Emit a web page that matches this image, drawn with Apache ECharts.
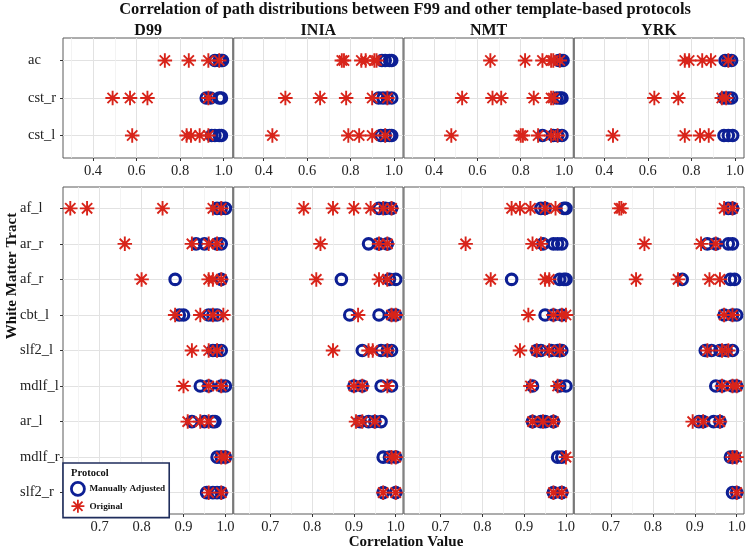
<!DOCTYPE html>
<html>
<head>
<meta charset="utf-8">
<script src="https://cdn.jsdelivr.net/npm/echarts@6/dist/echarts.min.js"></script>
<style>
html,body{margin:0;padding:0;background:#fff;}
#chart{width:749px;height:551px;}
</style>
</head>
<body>
<div id="chart"></div>
<script>
// ---------- data ----------
const templates = ['D99', 'INIA', 'NMT', 'YRK'];
const topTracts = ['ac', 'cst_r', 'cst_l'];
const bottomTracts = ['af_l', 'ar_r', 'af_r', 'cbt_l', 'slf2_l', 'mdlf_l', 'ar_l', 'mdlf_r', 'slf2_r'];
const topTicks = [0.4, 0.6, 0.8, 1.0];
const topMinorTicks = [0.3, 0.5, 0.7, 0.9];
const bottomTicks = [0.7, 0.8, 0.9, 1.0];
const bottomMinorTicks = [0.65, 0.75, 0.85, 0.95];
const protocols = ['Manually Adjusted', 'Original'];

// top block (ac, cst_r, cst_l)
const d99ManualTop   = [[0.96, 0.98, 0.99, 0.995], [0.92, 0.94, 0.98, 0.99], [0.945, 0.96, 0.98, 0.99]];
const d99OriginalTop = [[0.73, 0.84, 0.93, 0.98], [0.49, 0.57, 0.65, 0.93], [0.58, 0.83, 0.85, 0.89, 0.93]];
const iniaManualTop   = [[0.945, 0.96, 0.98, 0.99], [0.93, 0.95, 0.97, 0.99], [0.94, 0.96, 0.98, 0.99]];
const iniaOriginalTop = [[0.76, 0.77, 0.85, 0.87, 0.91, 0.92], [0.50, 0.66, 0.78, 0.90, 0.97], [0.44, 0.79, 0.84, 0.90, 0.96]];
const nmtManualTop   = [[0.975, 0.985, 0.995], [0.965, 0.98, 0.99], [0.90, 0.95, 0.97, 0.99]];
const nmtOriginalTop = [[0.66, 0.82, 0.90, 0.94, 0.95, 0.98], [0.53, 0.67, 0.71, 0.86, 0.94, 0.95], [0.48, 0.80, 0.81, 0.88, 0.94, 0.97]];
const yrkManualTop   = [[0.955, 0.97, 0.985], [0.95, 0.97, 0.985], [0.95, 0.97, 0.99]];
const yrkOriginalTop = [[0.77, 0.79, 0.85, 0.89, 0.97], [0.63, 0.74, 0.94, 0.96], [0.44, 0.77, 0.84, 0.88]];

// bottom block (af_l ... slf2_r)
const d99ManualBottom = [[0.98, 0.99, 1.0], [0.93, 0.95, 0.98, 0.99], [0.88, 0.99], [0.89, 0.90, 0.96, 0.97, 0.98],
  [0.97, 0.98, 0.99], [0.94, 0.96, 0.99, 1.0], [0.92, 0.95, 0.97, 0.975], [0.98, 0.99, 1.0], [0.955, 0.97, 0.98, 0.99]];
const d99OriginalBottom = [[0.63, 0.67, 0.85, 0.97, 0.99], [0.76, 0.92, 0.96, 0.98], [0.80, 0.96, 0.97, 0.99], [0.88, 0.94, 0.97, 0.995],
  [0.92, 0.96, 0.98], [0.90, 0.96, 0.99], [0.91, 0.94, 0.96], [0.99, 1.0], [0.96, 0.99]];
const iniaManualBottom = [[0.96, 0.975, 0.99], [0.935, 0.96, 0.98], [0.87, 0.985, 1.0], [0.89, 0.96, 0.99, 1.0],
  [0.92, 0.965, 0.98, 0.99], [0.90, 0.92, 0.965, 0.99], [0.915, 0.935, 0.95, 0.965], [0.97, 0.985, 1.0], [0.97, 1.0]];
const iniaOriginalBottom = [[0.78, 0.85, 0.90, 0.94, 0.97, 0.99], [0.82, 0.96, 0.98], [0.81, 0.96, 0.98], [0.91, 0.99, 1.0],
  [0.85, 0.935, 0.945, 0.98], [0.90, 0.92, 0.98], [0.905, 0.92, 0.95], [0.99, 1.0], [0.97, 1.0]];
const nmtManualBottom = [[0.94, 0.95, 0.995, 1.0], [0.945, 0.97, 0.98, 0.99], [0.87, 0.985, 0.995, 1.0], [0.95, 0.97, 0.99],
  [0.93, 0.94, 0.965, 0.98, 0.99], [0.92, 0.985, 1.0], [0.92, 0.94, 0.95, 0.97], [0.98, 0.99], [0.97, 0.99]];
const nmtOriginalBottom = [[0.87, 0.89, 0.915, 0.95, 0.975], [0.76, 0.92, 0.94], [0.82, 0.95, 0.96], [0.91, 0.97, 0.99, 1.0],
  [0.89, 0.93, 0.96, 0.985], [0.915, 0.98], [0.92, 0.945, 0.97], [1.0], [0.97, 0.99]];
const yrkManualBottom = [[0.98, 0.99], [0.93, 0.95, 0.98, 0.99], [0.87, 0.985, 0.995], [0.97, 0.99, 1.0],
  [0.925, 0.94, 0.96, 0.975, 0.99], [0.95, 0.965, 0.99, 1.0], [0.91, 0.92, 0.945, 0.96], [0.985, 0.995], [0.99, 1.0]];
const yrkOriginalBottom = [[0.72, 0.725, 0.97, 0.99], [0.78, 0.915, 0.95], [0.76, 0.86, 0.935, 0.96], [0.97, 0.99],
  [0.93, 0.965, 0.98], [0.965, 0.99, 1.0], [0.895, 0.92, 0.96], [0.99, 1.0], [1.0]];

// ---------- styling / layout ----------
const manualBlocks = [[d99ManualTop, iniaManualTop, nmtManualTop, yrkManualTop],
                      [d99ManualBottom, iniaManualBottom, nmtManualBottom, yrkManualBottom]];
const originalBlocks = [[d99OriginalTop, iniaOriginalTop, nmtOriginalTop, yrkOriginalTop],
                        [d99OriginalBottom, iniaOriginalBottom, nmtOriginalBottom, yrkOriginalBottom]];
const rowTracts = [topTracts, bottomTracts];
const rowTicks = [topTicks, bottomTicks];
const rowMinor = [topMinorTicks, bottomMinorTicks];
const rowRange = [[0.262, 1.042], [0.6126, 1.0174]];
const rowTop = [38, 187];
const rowHeight = [120, 327];
const rowLabelMargin = [35, 43];
const panelLeft = 63, panelStep = 170.25;

const FONT = '"Liberation Serif", "Times New Roman", serif';
const BLUE = '#0d1f94';
const RED = '#d8241a';
const ASTERISK = 'path://M0,5L10,5M5,0L5,10M1.46,1.46L8.54,8.54M8.54,1.46L1.46,8.54';

function toPoints(block) {
  const pts = [];
  block.forEach((vals, i) => vals.forEach(v => pts.push([v, i])));
  return pts;
}

const grid = [], xAxis = [], yAxis = [], series = [];
for (let r = 0; r < 2; r++) {
  const tracts = rowTracts[r];
  const idx = tracts.map((_, i) => i);
  for (let c = 0; c < 4; c++) {
    const g = r * 4 + c;
    const l = panelLeft + c * panelStep + (c > 0 ? 0.5 : 0);
    const w = panelStep - (c > 0 ? 0.5 : 0) - (c < 3 ? 0.5 : 0);
    grid.push({left: l, width: w, top: rowTop[r], height: rowHeight[r],
      show: true, borderColor: '#5a5a5a', borderWidth: 1, backgroundColor: 'transparent'});
    xAxis.push({
      type: 'value', gridIndex: g, min: rowRange[r][0], max: rowRange[r][1], position: 'bottom',
      axisLine: {show: false, onZero: false},
      axisTick: {show: true, length: 3, customValues: rowTicks[r], lineStyle: {color: '#333', width: 1}},
      axisLabel: {show: true, customValues: rowTicks[r], margin: 6, formatter: v => v.toFixed(1),
        fontFamily: FONT, fontSize: 14.5, color: '#222'},
      splitLine: {show: true, lineStyle: {color: '#e2e2e2', width: 1}}
    });
    xAxis.push({
      type: 'value', gridIndex: g, min: rowRange[r][0], max: rowRange[r][1], position: 'top',
      axisLine: {show: false, onZero: false},
      axisTick: {show: false, customValues: rowMinor[r]},
      axisLabel: {show: false, customValues: rowMinor[r]},
      splitLine: {show: true, lineStyle: {color: '#f0f0f0', width: 0.8}}
    });
    yAxis.push({
      type: 'value', gridIndex: g, min: -0.6, max: tracts.length - 0.4, inverse: true,
      axisLine: {show: false, onZero: false},
      axisTick: {show: c === 0, length: 3, customValues: idx, lineStyle: {color: '#333', width: 1}},
      axisLabel: {show: c === 0, customValues: idx, align: 'left', margin: rowLabelMargin[r],
        formatter: v => tracts[Math.round(v)], fontFamily: FONT, fontSize: 14.5, color: '#222'},
      splitLine: {show: true, lineStyle: {color: '#e2e2e2', width: 1}}
    });
    series.push({
      type: 'scatter', name: protocols[0], xAxisIndex: 2 * g, yAxisIndex: g,
      data: toPoints(manualBlocks[r][c]), symbol: 'circle', symbolSize: 10.5, z: 2,
      itemStyle: {color: 'rgba(0,0,0,0)', borderColor: BLUE, borderWidth: 3.1, opacity: 1},
      silent: true
    });
    series.push({
      type: 'scatter', name: protocols[1], xAxisIndex: 2 * g, yAxisIndex: g,
      data: toPoints(originalBlocks[r][c]), symbol: ASTERISK, symbolSize: 14.5, z: 3,
      itemStyle: {color: 'rgba(0,0,0,0)', borderColor: RED, borderWidth: 1.9, opacity: 1},
      silent: true
    });
  }
}

const graphics = [
  {type: 'text', x: 405, y: 10, z: 10, style: {text: 'Correlation of path distributions between F99 and other template-based protocols',
    align: 'center', verticalAlign: 'middle', font: 'bold 16.4px ' + FONT, fill: '#111'}},
  {type: 'text', x: 406, y: 542, z: 10, style: {text: 'Correlation Value',
    align: 'center', verticalAlign: 'middle', font: 'bold 15px ' + FONT, fill: '#111'}},
  {type: 'text', x: 12, y: 276, rotation: Math.PI / 2, z: 10, style: {text: 'White Matter Tract',
    align: 'center', verticalAlign: 'middle', font: 'bold 15px ' + FONT, fill: '#111'}},
  {type: 'text', x: 71, y: 473, z: 10, style: {text: 'Protocol',
    align: 'left', verticalAlign: 'middle', font: 'bold 10.5px ' + FONT, fill: '#111'}}
];
templates.forEach((t, c) => {
  graphics.push({type: 'text', x: panelLeft + c * panelStep + panelStep / 2, y: 31, z: 10,
    style: {text: t, align: 'center', verticalAlign: 'middle', font: 'bold 16px ' + FONT, fill: '#111'}});
});

const chart = echarts.init(document.getElementById('chart'));
chart.setOption({
  animation: false,
  backgroundColor: '#fff',
  grid, xAxis, yAxis, series,
  legend: {
    show: true, orient: 'vertical', left: 63, top: 463,
    padding: [18, 4, 4, 7], itemGap: 2, itemWidth: 13, itemHeight: 13,
    backgroundColor: '#fff', borderColor: '#1f2d5c', borderWidth: 1.6, borderRadius: 0,
    selectedMode: false, z: 5,
    textStyle: {fontFamily: FONT, fontWeight: 'bold', fontSize: 9.2, color: '#111', padding: [0, 0, 0, 0]},
    data: [
      {name: protocols[0], icon: 'circle', itemStyle: {color: 'rgba(0,0,0,0)', borderColor: BLUE, borderWidth: 2.8, opacity: 1}},
      {name: protocols[1], icon: ASTERISK, itemStyle: {color: 'rgba(0,0,0,0)', borderColor: RED, borderWidth: 1.8, opacity: 1}}
    ]
  },
  graphic: graphics
});
</script>
</body>
</html>
